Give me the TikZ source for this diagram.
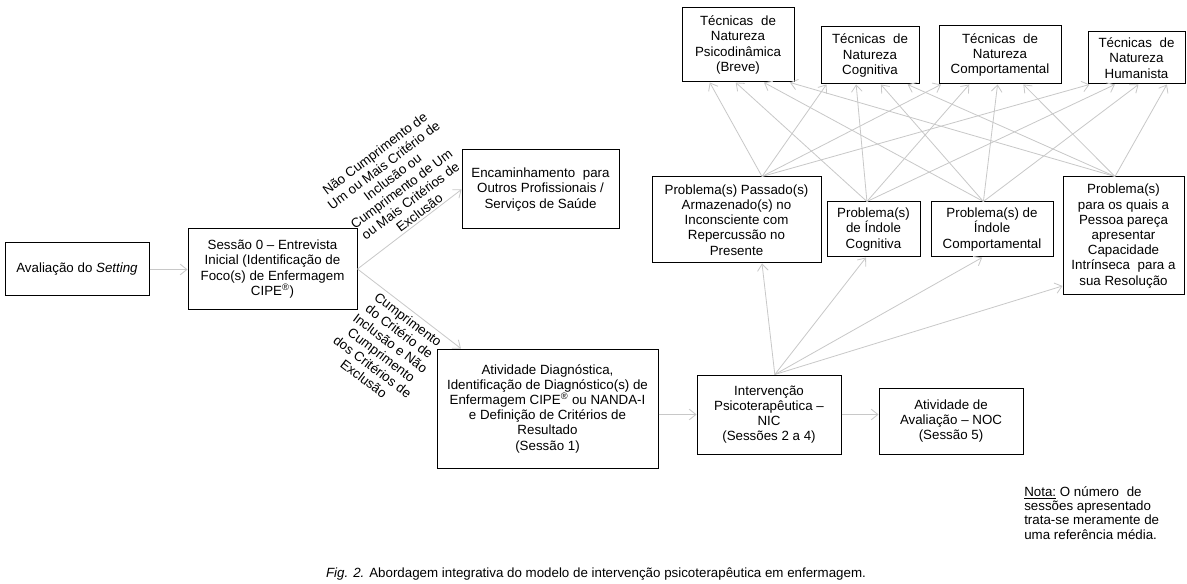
\documentclass[tikz,border=0pt]{standalone}
\usepackage{fontspec}
\setmainfont{Liberation Sans}
\usetikzlibrary{arrows.meta,calc}
\definecolor{arrgray}{RGB}{200,200,200}
\newcommand{\wsp}{\hspace{0.3em}}
\begin{document}
\begin{tikzpicture}[x=0.75pt,y=-0.75pt,
  box/.style={draw=black,line width=0.75pt,align=center,inner sep=0pt,font=\fontsize{10}{11.4}\selectfont},
  conn/.style={draw=arrgray,line width=0.6pt,-{Straight Barb[length=5pt,width=8pt]}},
  lab/.style={align=center,inner sep=0pt,font=\fontsize{10}{11.1}\selectfont},
  plain/.style={inner sep=0pt,font=\fontsize{10}{10.8}\selectfont}]
\useasboundingbox (0,0) rectangle (1187,584);
\fill[white] (0,0) rectangle (1187,584);

% left flow
\node[box,minimum width=108pt,minimum height=39.75pt] (set) at (77,269.5) {Avaliação do \textit{Setting}};
\node[box,minimum width=126.75pt,minimum height=60pt] (s0) at (272.5,269) {Sessão 0 – Entrevista\\Inicial (Identificação de\\Foco(s) de Enfermagem\\CIPE\textsuperscript{®})};
\node[box,minimum width=117.75pt,minimum height=59.25pt] (enc) at (540.5,189.5) {Encaminhamento\wsp{} para\\Outros Profissionais /\\Serviços de Saúde};
\node[box,minimum width=165.75pt,minimum height=89.25pt] (diag) at (547.5,408.5) {Atividade Diagnóstica,\\Identificação de Diagnóstico(s) de\\Enfermagem CIPE\textsuperscript{®} ou NANDA-I\\e Definição de Critérios de\\Resultado\\(Sessão 1)};
\node[box,minimum width=108pt,minimum height=59.25pt] (interv) at (769,414.5) {Intervenção\\Psicoterapêutica –\\NIC\\(Sessões 2 a 4)};
\node[box,minimum width=108pt,minimum height=49.5pt] (aval) at (951,421) {Atividade de\\Avaliação – NOC\\(Sessão 5)};

% problems
\node[box,minimum width=126.75pt,minimum height=64.5pt] (past) at (736.5,220) {Problema(s) Passado(s)\\Armazenado(s) no\\Inconsciente com\\Repercussão no\\Presente};
\node[box,minimum width=69.75pt,minimum height=41.25pt] (pcog) at (873.5,229.5) {Problema(s)\\de Índole\\Cognitiva};
\node[box,minimum width=91.5pt,minimum height=41.25pt] (pcomp) at (992,229.5) {Problema(s) de\\Índole\\Comportamental};
\node[box,minimum width=90.75pt,minimum height=88.5pt] (pint) at (1123.5,236) {Problema(s)\\para os quais a\\Pessoa pareça\\apresentar\\Capacidade\\Intrínseca\wsp{} para a\\sua Resolução};

% techniques
\node[box,minimum width=84pt,minimum height=55.5pt] (tpsi) at (738,45) {Técnicas\wsp{} de\\Natureza\\Psicodinâmica\\(Breve)};
\node[box,minimum width=73.5pt,minimum height=42.75pt] (tcog) at (870,55.5) {Técnicas\wsp{} de\\Natureza\\Cognitiva};
\node[box,minimum width=91.5pt,minimum height=43.5pt] (tcomp) at (1000,55) {Técnicas\wsp{} de\\Natureza\\Comportamental};
\node[box,minimum width=72.75pt,minimum height=39pt] (thum) at (1136.5,58) {Técnicas\wsp{} de\\Natureza\\Humanista};

% connectors left
\draw[conn] (set.east) -- (s0.west |- set.east);
\draw[conn] (s0.east) -- (enc.west);
\draw[conn] (s0.east) -- ($(diag.north west)!0.11!(diag.north east)$);
\draw[conn] (diag.east |- interv.west) -- (interv.west);
\draw[conn] (interv.east) -- (interv.east -| aval.west);

% edge labels
\node[lab,rotate=37] (lab1) at (397,183) {Não Cumprimento de\\Um ou Mais Critério de\\Inclusão ou\\Cumprimento de Um\\ou Mais Critérios de\\Exclusão};
\node[lab,rotate=-37] (lab2) at (386,349) {Cumprimento\\do Critério de\\Inclusão e Não\\Cumprimento\\dos Critérios de\\Exclusão};

% intervention fan
\coordinate (io) at ($(interv.north west)!0.54!(interv.north east)$);
\draw[conn] (io) -- ($(past.south west)!0.65!(past.south east)$);
\draw[conn] (io) -- ($(pcog.south west)!0.42!(pcog.south east)$);
\draw[conn] (io) -- ($(pcomp.south west)!0.42!(pcomp.south east)$);
\draw[conn] (io) -- ($(pint.north west)!0.92!(pint.south west)$);

% problem -> technique fan
\foreach \s/\sf in {past/0.65,pcog/0.43,pcomp/0.43,pint/0.43}
  \coordinate (\s-top) at ($(\s.north west)!\sf!(\s.north east)$);
\foreach \s/\t/\tf in {
  past/tpsi/0.25, past/tcog/0.06, past/tcomp/0.02, past/thum/0.02,
  pcog/tpsi/0.48, pcog/tcog/0.36, pcog/tcomp/0.25, pcog/thum/0.28,
  pcomp/tpsi/0.73, pcomp/tcog/0.61, pcomp/tcomp/0.48, pcomp/thum/0.52,
  pint/tpsi/0.96, pint/tcog/0.88, pint/tcomp/0.69, pint/thum/0.81}
  \draw[conn] (\s-top) -- ($(\t.south west)!\tf!(\t.south east)$);

% note and caption
\node[plain,anchor=north west,align=left] (nota) at (1024,486) {\underline{Nota:} O número\wsp{} de\\sessões apresentado\\trata-se meramente de\\uma referência média.};
\node[plain] (cap) at (596,574) {\textit{Fig. 2.} Abordagem integrativa do modelo de intervenção psicoterapêutica em enfermagem.};
\end{tikzpicture}
\end{document}
